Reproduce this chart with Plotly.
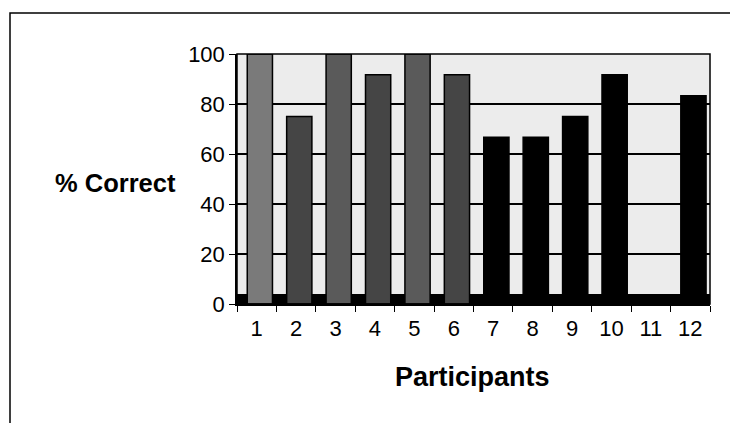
import plotly.graph_objects as go

participants = ["1", "2", "3", "4", "5", "6", "7", "8", "9", "10", "11", "12"]
pct_correct = [100, 75, 100, 91.7, 100, 91.7, 66.7, 66.7, 75, 91.7, 0, 83.3]
bar_colors = ["#7a7a7a", "#454545", "#5a5a5a", "#454545", "#5a5a5a", "#454545",
              "#000000", "#000000", "#000000", "#000000", "#000000", "#000000"]
y_ticks = [0, 20, 40, 60, 80, 100]

FONT = "Liberation Sans, Arial, sans-serif"

# page is offset by the 8px default body margin
OFF = 8
W, H = 738 - OFF, 423 - OFF
ml, mr, mt, mb = 237 - OFF, 28, 54 - OFF, 119
pw, ph = W - ml - mr, H - mt - mb


def px_x(p):
    return (p - OFF - ml) / pw


def px_y(p):
    return (H - mb - (p - OFF)) / ph


fig = go.Figure()
fig.add_trace(go.Bar(
    x=participants, y=pct_correct,
    marker=dict(color=bar_colors, line=dict(color="#000000", width=1.5)),
    width=0.64, offset=-0.24,
    showlegend=False,
))

fig.update_layout(
    width=W, height=H,
    margin=dict(l=ml, r=mr, t=mt, b=mb, pad=0),
    paper_bgcolor="#ffffff",
    plot_bgcolor="#ececec",
    font=dict(family=FONT, color="#000000", size=22),
    xaxis=dict(
        type="category", range=[-0.5, 11.5],
        showline=True, linecolor="#000000", linewidth=1.5,
        ticks="outside", tickson="boundaries", ticklen=6, tickcolor="#000000",
        tickfont=dict(size=22), showgrid=False, mirror=False,
        ticklabelstandoff=4,
    ),
    yaxis=dict(
        range=[0, 100], tickvals=y_ticks,
        showline=True, linecolor="#000000", linewidth=1.5,
        ticks="outside", ticklen=6, tickcolor="#000000",
        tickfont=dict(size=22),
        showgrid=True, gridcolor="#000000", gridwidth=1.5,
        zeroline=False,
    ),
    shapes=[
        # floor of the 3D chart
        dict(type="rect", xref="paper", yref="y", x0=0, x1=1, y0=0, y1=4,
             fillcolor="#000000", line=dict(width=0), layer="below"),
        # back wall border
        dict(type="rect", xref="paper", yref="paper", x0=0, x1=1, y0=0, y1=1,
             line=dict(color="#000000", width=1.5)),
        # outer chart frame
        dict(type="rect", xref="paper", yref="paper",
             x0=px_x(10), x1=px_x(760), y0=px_y(440), y1=px_y(13),
             line=dict(color="#000000", width=1.5)),
    ],
    annotations=[
        dict(text="<b>% Correct</b>", xref="paper", yref="paper",
             x=px_x(115), y=px_y(183), xanchor="center", yanchor="middle",
             showarrow=False, font=dict(size=25.5, family=FONT)),
        dict(text="<b>Participants</b>", xref="paper", yref="paper",
             x=px_x(472), y=px_y(377), xanchor="center", yanchor="middle",
             showarrow=False, font=dict(size=27, family=FONT)),
    ],
)

fig.write_html("out.html")
